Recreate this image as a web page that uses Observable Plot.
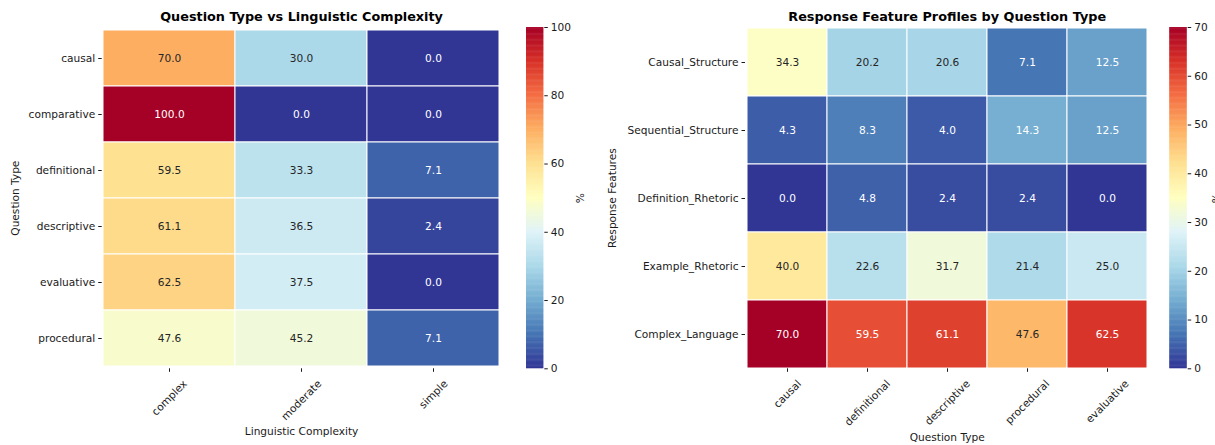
<!DOCTYPE html>
<html><head><meta charset="utf-8">
<script src="https://cdn.jsdelivr.net/npm/d3@7"></script>
<script src="https://cdn.jsdelivr.net/npm/@observablehq/plot@0.6"></script>
<style>
body{margin:0;background:#fff;}
#wrap{position:relative;width:1215px;height:445px;overflow:hidden;font-family:"DejaVu Sans",sans-serif;}
#wrap > svg{position:absolute;top:0;}
</style></head><body><div id="wrap"></div>
<script>
// ---- Data: left heatmap (Question Type vs Linguistic Complexity, %)
const complexityCats = ["complex", "moderate", "simple"];
const questionTypes = ["causal", "comparative", "definitional", "descriptive", "evaluative", "procedural"];
const complexValues  = [70.0, 100.0, 59.5, 61.1, 62.5, 47.6];
const moderateValues = [30.0, 0.0, 33.3, 36.5, 37.5, 45.2];
const simpleValues   = [0.0, 0.0, 7.1, 2.4, 0.0, 7.1];
const leftTicks = [0, 20, 40, 60, 80, 100];

// ---- Data: right heatmap (Response Feature Profiles by Question Type, %)
const profileTypes = ["causal", "definitional", "descriptive", "procedural", "evaluative"];
const featureNames = ["Causal_Structure", "Sequential_Structure", "Definition_Rhetoric", "Example_Rhetoric", "Complex_Language"];
const causalStructure     = [34.3, 20.2, 20.6, 7.1, 12.5];
const sequentialStructure = [4.3, 8.3, 4.0, 14.3, 12.5];
const definitionRhetoric  = [0.0, 4.8, 2.4, 2.4, 0.0];
const exampleRhetoric     = [40.0, 22.6, 31.7, 21.4, 25.0];
const complexLanguage     = [70.0, 59.5, 61.1, 47.6, 62.5];
const rightTicks = [0, 10, 20, 30, 40, 50, 60, 70];

// ---- build tables
const leftCols = [complexValues, moderateValues, simpleValues];
const leftRows = questionTypes.flatMap((q, i) => complexityCats.map((c, j) => ({q, c, v: leftCols[j][i]})));
const rightSeries = [causalStructure, sequentialStructure, definitionRhetoric, exampleRhetoric, complexLanguage];
const rightRows = featureNames.flatMap((f, i) => profileTypes.map((t, j) => ({f, t, v: rightSeries[i][j]})));

// ---- colormap RdYlBu_r (matplotlib-style linear segments)
const rdylbu = ["#a50026","#d73027","#f46d43","#fdae61","#fee090","#ffffbf","#e0f3f8","#abd9e9","#74add1","#4575b4","#313695"].reverse();
const interp = d3.piecewise(d3.interpolateRgb, rdylbu);
function lum(c) {
  const r = d3.rgb(c);
  const f = x => { x /= 255; return x <= 0.03928 ? x / 12.92 : Math.pow((x + 0.055) / 1.055, 2.4); };
  return 0.2126 * f(r.r) + 0.7152 * f(r.g) + 0.0722 * f(r.b);
}
const isLight = (v, max) => lum(interp(v / max)) > 0.408;

const FONT = "DejaVu Sans";
const FS = 10.6;
const ctx = document.createElement("canvas").getContext("2d");
ctx.font = `${FS}px "${FONT}"`;
const measure = s => ctx.measureText(s).width;

const wrap = document.getElementById("wrap");
const baseStyle = {fontFamily: FONT, fontSize: FS + "px", color: "#1a1a1a", background: "transparent", overflow: "visible"};

function rotatedLabels(cats) {
  // matplotlib rotation=45, ha=center, va=top: bbox top fixed, centered on tick
  return cats.map(c => Plot.text([c], {
    x: d => d, frameAnchor: "bottom", rotate: -45, textAnchor: "middle", lineAnchor: "middle",
    dy: 9 + (measure(c) + 12) / (2 * Math.SQRT2), fontSize: FS, fill: "#1a1a1a"
  }));
}

function heatmap({rows, xKey, yKey, xDomain, yDomain, max, width, mL, mR, title, xLabel, xLabelDy, yLabel, yLabelDx}) {
  return Plot.plot({
    width, height: 445,
    marginLeft: mL, marginRight: mR, marginTop: 27, marginBottom: 445 - 368.3,
    style: baseStyle,
    x: {domain: xDomain, padding: 0, axis: null},
    y: {domain: yDomain, padding: 0, axis: null},
    color: {type: "linear", domain: [0, max], interpolate: interp},
    marks: [
      Plot.cell(rows, {x: xKey, y: yKey, fill: "v", stroke: "white", strokeWidth: 1}),
      Plot.text(rows.filter(d => isLight(d.v, max)), {x: xKey, y: yKey, text: d => d.v.toFixed(1), fill: "#262626", fontSize: FS}),
      Plot.text(rows.filter(d => !isLight(d.v, max)), {x: xKey, y: yKey, text: d => d.v.toFixed(1), fill: "white", fontSize: FS}),
      Plot.axisY({tickSize: 3.5, tickPadding: 3.5, label: null, fontSize: FS}),
      Plot.axisX({tickSize: 3.5, tickFormat: () => "", label: null}),
      ...rotatedLabels(xDomain),
      Plot.text([title], {frameAnchor: "top", dy: -10.8, fontWeight: "bold", fontSize: 12.8, fill: "#000", lineAnchor: "middle"}),
      Plot.text([xLabel], {frameAnchor: "bottom", dy: xLabelDy, fontSize: FS, fill: "#1a1a1a", lineAnchor: "middle"}),
      Plot.text([yLabel], {frameAnchor: "left", dx: yLabelDx, rotate: -90, fontSize: FS, fill: "#1a1a1a", lineAnchor: "middle", textAnchor: "middle"})
    ]
  });
}

function colorbar({max, ticks, width, mL, barW, labelDx}) {
  const steps = d3.range(0, max, max / 400);
  return Plot.plot({
    width, height: 445,
    marginLeft: mL, marginRight: width - mL - barW, marginTop: 27, marginBottom: 445 - 368.3,
    style: baseStyle,
    x: {domain: [0, 1], axis: null},
    y: {domain: [0, max], axis: null},
    color: {type: "linear", domain: [0, max], interpolate: interp},
    marks: [
      Plot.rect(steps, {x1: 0, x2: 1, y1: d => d, y2: d => Math.min(max, d + max / 400 * 1.6), fill: d => d}),
      Plot.axisY({anchor: "right", ticks, tickSize: 3.5, tickPadding: 3.5, label: null, fontSize: FS}),
      Plot.text(["%"], {frameAnchor: "right", dx: labelDx, rotate: -90, fontSize: FS, fill: "#1a1a1a", lineAnchor: "middle", textAnchor: "middle"})
    ]
  });
}

const p1 = heatmap({rows: leftRows, xKey: "c", yKey: "q", xDomain: complexityCats, yDomain: questionTypes, max: 100,
  width: 505, mL: 101.7, mR: 4.5, title: "Question Type vs Linguistic Complexity", xLabel: "Linguistic Complexity", xLabelDy: 63,
  yLabel: "Question Type", yLabelDx: -(101.7 - 15.5)});
p1.style.left = "0px";
const c1 = colorbar({max: 100, ticks: leftTicks, width: 100, mL: 26, barW: 17.3, labelDx: 80 - 43.3});
c1.style.left = "500px";
const p2 = heatmap({rows: rightRows, xKey: "t", yKey: "f", xDomain: profileTypes, yDomain: featureNames, max: 70,
  width: 555, mL: 145, mR: 6.6, title: "Response Feature Profiles by Question Type", xLabel: "Question Type", xLabelDy: 69,
  yLabel: "Response Features", yLabelDx: -(145 - 12)});
p2.style.left = "600px";
const c2 = colorbar({max: 70, ticks: rightTicks, width: 75, mL: 29.3, barW: 17.4, labelDx: 76 - 46.7});
c2.style.left = "1140px";
wrap.append(p1, c1, p2, c2);
</script>
</body></html>
